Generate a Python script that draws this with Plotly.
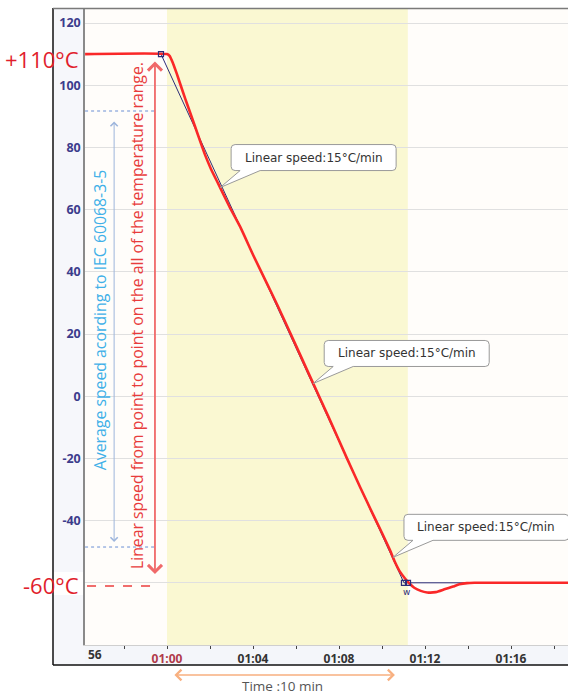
import numpy as np
import plotly.graph_objects as go

# ---------------- data ----------------
red_t = [56.19, 59.99, 60.12, 60.28, 60.45, 60.60, 60.85, 61.07, 61.30, 61.50, 61.77,
         62.05, 62.37, 62.90, 63.40, 64.00, 64.56, 65.12, 65.70, 66.28, 66.74, 67.50,
         68.37, 69.00, 69.58, 70.00, 70.37, 70.60, 70.84, 71.07, 71.30, 71.50, 71.80,
         72.10, 72.50, 72.90, 73.30, 73.60, 73.95, 74.30, 78.65]
red_v = [110, 110, 109.4, 107.0, 103.8, 100.7, 95.6, 91.3, 86.8, 82.8, 77.6,
         73.0, 68.5, 61.0, 54.5, 45.5, 37.5, 29.5, 20.8, 12.0, 5.0, -6.5,
         -20.0, -29.5, -38.0, -44.0, -49.5, -53.3, -56.5, -58.6, -60.4, -61.6, -62.6,
         -63.1, -63.0, -62.1, -61.2, -60.5, -60.1, -60, -60]

ref_t = [59.72, 71.02, 73.95]          # linear reference profile
ref_v = [110, -60, -60]
mark_t = [59.72, 71.02, 71.21]
mark_v = [110, -60, -60]

iec_levels = [91.7, -48.5]             # dotted levels (IEC average)
side_window = [56.19, 59.44]
low_dash_t = [56.28, 59.30]
low_dash_v = [-61, -61]

band = [60.0, 71.2]                    # 10 min window
callout_times = [62.47, 66.80, 70.51]
callout_text = "Linear speed:15°C/min"

x_ticks = [58, 60, 62, 64, 66, 68, 70, 72, 74, 76, 78]
x_labels = ["", '<span style="color:#b03a4a">01:00</span>', "", "01:04", "", "01:08",
            "", "01:12", "", "01:16", ""]
y_ticks = [-60, -40, -20, 0, 20, 40, 60, 80, 100, 120]
y_labels = ["", "-40", "-20", "0", "20", "40", "60", "80", "100", "120"]

X_RANGE = [56.186, 78.65]
Y_RANGE = [-80, 124.5]

# ---------------- figure ----------------
W, H = 568, 697
ML, MR, MT, MB = 85, 0, 9, 52
PW, PH = W - ML - MR, H - MT - MB
PXM = PW / (X_RANGE[1] - X_RANGE[0])
PXV = PH / (Y_RANGE[1] - Y_RANGE[0])


def px_x(px):  # pixel -> paper x
    return (px - ML) / PW


def px_y(py):  # pixel -> paper y
    return (H - MB - py) / PH


fig = go.Figure()

fig.add_trace(go.Scatter(x=ref_t, y=ref_v, mode="lines",
                         line=dict(color="#2e2e78", width=1), hoverinfo="skip"))
fig.add_trace(go.Scatter(x=red_t, y=red_v, mode="lines", line_shape="spline",
                         line=dict(color="rgb(250,40,40)", width=2.6, smoothing=0.5),
                         hoverinfo="skip"))
fig.add_trace(go.Scatter(x=mark_t, y=mark_v, mode="markers",
                         marker=dict(symbol="square-open", size=5,
                                     color="#2e2e78", line=dict(width=1.2)),
                         hoverinfo="skip"))
for lv in iec_levels:
    fig.add_trace(go.Scatter(x=side_window, y=[lv, lv], mode="lines",
                             line=dict(color="#6b8fd4", width=1, dash="dot"),
                             hoverinfo="skip"))
fig.add_trace(go.Scatter(x=low_dash_t, y=low_dash_v, mode="lines",
                         line=dict(color="rgba(235,60,60,0.75)", width=2, dash="dash"),
                         hoverinfo="skip"))

shapes = []
# axis panels
shapes.append(dict(type="rect", xref="paper", yref="paper",
                   x0=px_x(53), x1=0, y0=px_y(665), y1=1,
                   fillcolor="#f6f7fb", line_width=0, layer="below"))
shapes.append(dict(type="rect", xref="paper", yref="paper",
                   x0=0, x1=1.01, y0=px_y(665), y1=0,
                   fillcolor="#f4f6fa", line_width=0, layer="below"))
# white patch behind -60°C
shapes.append(dict(type="rect", xref="paper", yref="paper",
                   x0=px_x(53.5), x1=px_x(84), y0=px_y(595), y1=px_y(572),
                   fillcolor="white", line_width=0, layer="below"))
# yellow band
shapes.append(dict(type="rect", xref="x", yref="paper", x0=band[0], x1=band[1],
                   y0=0, y1=1, fillcolor="rgb(250,248,210)", line_width=0, layer="below"))
# outer frame
shapes.append(dict(type="line", xref="paper", yref="paper", x0=px_x(53), x1=px_x(53),
                   y0=px_y(665), y1=px_y(8), line=dict(color="#111", width=1.5)))
shapes.append(dict(type="line", xref="paper", yref="paper", x0=px_x(53), x1=1.02,
                   y0=px_y(665), y1=px_y(665), line=dict(color="#111", width=1.5)))
shapes.append(dict(type="line", xref="paper", yref="paper", x0=px_x(53), x1=1.02,
                   y0=px_y(8.5), y1=px_y(8.5), line=dict(color="#7a7a7a", width=1.5)))

annotations = []
# callouts
for t in callout_times:
    v = float(np.interp(t, red_t, red_v))

    def X(dx):
        return t + dx / PXM

    def Y(dy):
        return v - dy / PXV

    L, R, T, B = X(11), X(176), Y(-43), Y(-17)
    rx, ry = 4 / PXM, 4 / PXV
    path = (f"M {L+rx},{T} L {R-rx},{T} Q {R},{T} {R},{T-ry} L {R},{B+ry} "
            f"Q {R},{B} {R-rx},{B} L {X(40)},{B} L {t},{v} L {X(20)},{B} "
            f"L {L+rx},{B} Q {L},{B} {L},{B+ry} L {L},{T-ry} Q {L},{T} {L+rx},{T} Z")
    shapes.append(dict(type="path", xref="x", yref="y", path=path,
                       fillcolor="white", line=dict(color="#9a9a9a", width=1)))
    annotations.append(dict(x=X(93.5), y=Y(-30), xref="x", yref="y", text=callout_text,
                            showarrow=False,
                            font=dict(family="DejaVu Sans", size=12, color="#333")))

# big temperature labels
annotations.append(dict(x=px_x(81), y=px_y(59), xref="paper", yref="paper",
                        xanchor="right", yanchor="middle", text="+110°C", showarrow=False,
                        font=dict(family="Open Sans", size=22, color="rgb(225,30,45)")))
annotations.append(dict(x=px_x(81), y=px_y(585), xref="paper", yref="paper",
                        xanchor="right", yanchor="middle", text="-60°C", showarrow=False,
                        font=dict(family="Open Sans", size=22, color="rgb(225,30,45)")))
# "56" label at left end of axis
annotations.append(dict(x=0, y=px_y(654), xref="paper", yref="paper", xanchor="left",
                        yanchor="middle", text="56", showarrow=False, xshift=1,
                        font=dict(family="Noto Sans", size=12, color="#333",
                                  weight="bold")))
# red double arrow + text
annotations.append(dict(x=59.44, y=-57.2, ax=59.44, ay=108.1, xref="x", yref="y",
                        axref="x", ayref="y", text="", showarrow=True,
                        arrowside="end+start", arrowhead=4, startarrowhead=4,
                        arrowsize=1.5, startarrowsize=1.5, arrowwidth=1.8,
                        arrowcolor="rgb(240,105,105)"))
annotations.append(dict(x=58.61, y=25.8, xref="x", yref="y", textangle=-90,
                        text="Linear speed from point to point on the all of the temperature range.",
                        showarrow=False,
                        font=dict(family="Open Sans", size=15.8, color="rgb(232,60,60)")))
# blue double arrow + text
annotations.append(dict(x=57.54, y=-46.9, ax=57.54, ay=88.8, xref="x", yref="y",
                        axref="x", ayref="y", text="", showarrow=True,
                        arrowside="end+start", arrowhead=4, startarrowhead=4,
                        arrowsize=1.4, startarrowsize=1.4, arrowwidth=1,
                        arrowcolor="#9db5dc"))
annotations.append(dict(x=56.89, y=24.5, xref="x", yref="y", textangle=-90,
                        text="Average speed acording to IEC 60068-3-5", showarrow=False,
                        font=dict(family="Open Sans", size=15.8, color="rgb(64,176,232)")))
# w label
annotations.append(dict(x=71.12, y=-62.8, xref="x", yref="y", text="w", showarrow=False,
                        font=dict(family="DejaVu Sans", size=9, color="#2e2e78")))
# time arrow
annotations.append(dict(x=70.6, y=px_y(675), xref="x", yref="paper", ax=-222, ay=0,
                        axref="pixel", ayref="pixel", text="", showarrow=True,
                        arrowside="end+start", arrowhead=4, startarrowhead=4,
                        arrowsize=1.6, startarrowsize=1.6, arrowwidth=1.3,
                        arrowcolor="rgb(248,176,128)"))
annotations.append(dict(x=px_x(282), y=px_y(696), xref="paper", yref="paper",
                        yanchor="bottom", text="Time :10 min", showarrow=False,
                        borderpad=0,
                        font=dict(family="Open Sans", size=13.5, color="#555")))

fig.update_layout(
    width=W, height=H, autosize=False,
    margin=dict(l=ML, r=MR, t=MT, b=MB, autoexpand=False),
    paper_bgcolor="white", plot_bgcolor="#fffdfa",
    showlegend=False,
    shapes=shapes, annotations=annotations,
    xaxis=dict(range=X_RANGE, showgrid=False, zeroline=False,
               tickmode="array", tickvals=x_ticks, ticktext=x_labels,
               ticks="outside", ticklen=3, tickcolor="#444",
               showline=True, linecolor="#cfcfcf", linewidth=1,
               tickfont=dict(family="Noto Sans", size=12, color="#333", weight="bold")),
    yaxis=dict(range=Y_RANGE, showgrid=True, gridcolor="#e0e0e0", gridwidth=1,
               zeroline=False, tickmode="array", tickvals=y_ticks, ticktext=y_labels,
               showline=True, linecolor="#8a8a8a", linewidth=1.5, ticks="",
               tickfont=dict(family="Noto Sans", size=12.5, color="#3c3c8c", weight="bold")),
)

fig.write_html("out.html", config={"displayModeBar": False},
               post_script="document.body.style.margin='0';document.body.style.padding='0';")
